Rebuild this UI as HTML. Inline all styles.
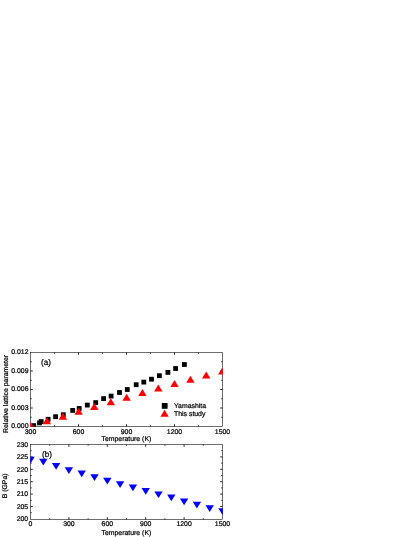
<!DOCTYPE html>
<html><head><meta charset="utf-8"><title>Chart</title>
<style>
html,body{margin:0;padding:0;background:#fff;}
body{width:415px;height:537px;position:relative;overflow:hidden;font-family:"Liberation Sans",sans-serif;}
</style></head><body>
<svg width="415" height="537" viewBox="0 0 415 537" style="position:absolute;left:0;top:0;will-change:transform">
<defs><clipPath id="ca"><rect x="30.20" y="352.20" width="192.60" height="74.60"/></clipPath>
<clipPath id="cb"><rect x="30.20" y="444.20" width="192.60" height="75.60"/></clipPath></defs>
<g stroke="#000" stroke-width="0.57" fill="none">
<rect x="30.50" y="352.50" width="192.00" height="74.00"/>
<rect x="30.50" y="444.50" width="192.00" height="75.00"/>
<path stroke-width="0.85" d="M54.50 426.50v-1.20M54.50 352.50v1.20M78.50 426.50v-2.30M78.50 352.50v2.30M102.50 426.50v-1.20M102.50 352.50v1.20M126.50 426.50v-2.30M126.50 352.50v2.30M150.50 426.50v-1.20M150.50 352.50v1.20M174.50 426.50v-2.30M174.50 352.50v2.30M198.50 426.50v-1.20M198.50 352.50v1.20M30.50 417.25h1.20M222.50 417.25h-1.20M30.50 408.00h2.30M222.50 408.00h-2.30M30.50 398.75h1.20M222.50 398.75h-1.20M30.50 389.50h2.30M222.50 389.50h-2.30M30.50 380.25h1.20M222.50 380.25h-1.20M30.50 371.00h2.30M222.50 371.00h-2.30M30.50 361.75h1.20M222.50 361.75h-1.20M49.70 519.50v-1.20M49.70 444.50v1.20M68.90 519.50v-2.30M68.90 444.50v2.30M88.10 519.50v-1.20M88.10 444.50v1.20M107.30 519.50v-2.30M107.30 444.50v2.30M126.50 519.50v-1.20M126.50 444.50v1.20M145.70 519.50v-2.30M145.70 444.50v2.30M164.90 519.50v-1.20M164.90 444.50v1.20M184.10 519.50v-2.30M184.10 444.50v2.30M203.30 519.50v-1.20M203.30 444.50v1.20M30.50 512.70h1.20M222.50 512.70h-1.20M30.50 506.50h2.30M222.50 506.50h-2.30M30.50 500.30h1.20M222.50 500.30h-1.20M30.50 494.10h2.30M222.50 494.10h-2.30M30.50 487.90h1.20M222.50 487.90h-1.20M30.50 481.70h2.30M222.50 481.70h-2.30M30.50 475.50h1.20M222.50 475.50h-1.20M30.50 469.30h2.30M222.50 469.30h-2.30M30.50 463.10h1.20M222.50 463.10h-1.20M30.50 456.90h2.30M222.50 456.90h-2.30M30.50 450.70h1.20M222.50 450.70h-1.20"/>
</g>
<g clip-path="url(#ca)" fill="#000">
<rect x="31.30" y="423.20" width="4.80" height="4.80"/>
<rect x="37.10" y="420.50" width="4.80" height="4.80"/>
<rect x="38.80" y="419.20" width="4.80" height="4.80"/>
<rect x="45.70" y="416.90" width="4.80" height="4.80"/>
<rect x="53.20" y="414.30" width="4.80" height="4.80"/>
<rect x="60.90" y="412.30" width="4.80" height="4.80"/>
<rect x="70.30" y="408.00" width="4.80" height="4.80"/>
<rect x="76.80" y="406.10" width="4.80" height="4.80"/>
<rect x="84.90" y="402.70" width="4.80" height="4.80"/>
<rect x="93.30" y="400.20" width="4.80" height="4.80"/>
<rect x="101.20" y="396.20" width="4.80" height="4.80"/>
<rect x="108.70" y="393.70" width="4.80" height="4.80"/>
<rect x="117.10" y="390.10" width="4.80" height="4.80"/>
<rect x="124.90" y="387.10" width="4.80" height="4.80"/>
<rect x="133.80" y="382.30" width="4.80" height="4.80"/>
<rect x="141.40" y="379.70" width="4.80" height="4.80"/>
<rect x="149.10" y="376.80" width="4.80" height="4.80"/>
<rect x="157.00" y="373.30" width="4.80" height="4.80"/>
<rect x="165.50" y="370.00" width="4.80" height="4.80"/>
<rect x="173.20" y="366.10" width="4.80" height="4.80"/>
<rect x="182.00" y="362.10" width="4.80" height="4.80"/>
</g>
<g clip-path="url(#ca)" fill="#ff0000">
<polygon points="30.60,422.00 34.80,429.00 26.40,429.00"/>
<polygon points="46.90,417.20 51.10,424.20 42.70,424.20"/>
<polygon points="62.90,412.80 67.10,419.80 58.70,419.80"/>
<polygon points="78.60,407.80 82.80,414.80 74.40,414.80"/>
<polygon points="94.30,402.90 98.50,409.90 90.10,409.90"/>
<polygon points="110.80,398.20 115.00,405.20 106.60,405.20"/>
<polygon points="126.60,393.80 130.80,400.80 122.40,400.80"/>
<polygon points="142.40,389.10 146.60,396.10 138.20,396.10"/>
<polygon points="158.30,384.60 162.50,391.60 154.10,391.60"/>
<polygon points="174.50,380.10 178.70,387.10 170.30,387.10"/>
<polygon points="190.40,375.65 194.60,382.65 186.20,382.65"/>
<polygon points="206.20,371.40 210.40,378.40 202.00,378.40"/>
<polygon points="222.30,367.40 226.50,374.40 218.10,374.40"/>
</g>
<g clip-path="url(#cb)" fill="#0000ff">
<polygon points="26.30,456.80 34.70,456.80 30.50,463.50"/>
<polygon points="39.10,458.80 47.50,458.80 43.30,465.50"/>
<polygon points="51.90,463.10 60.30,463.10 56.10,469.80"/>
<polygon points="64.70,467.20 73.10,467.20 68.90,473.90"/>
<polygon points="77.50,470.60 85.90,470.60 81.70,477.30"/>
<polygon points="90.30,474.30 98.70,474.30 94.50,481.00"/>
<polygon points="103.10,477.80 111.50,477.80 107.30,484.50"/>
<polygon points="115.90,481.20 124.30,481.20 120.10,487.90"/>
<polygon points="128.70,484.60 137.10,484.60 132.90,491.30"/>
<polygon points="141.50,488.00 149.90,488.00 145.70,494.70"/>
<polygon points="154.30,491.40 162.70,491.40 158.50,498.10"/>
<polygon points="167.10,494.60 175.50,494.60 171.30,501.30"/>
<polygon points="179.90,498.45 188.30,498.45 184.10,505.15"/>
<polygon points="192.70,501.85 201.10,501.85 196.90,508.55"/>
<polygon points="205.50,505.25 213.90,505.25 209.70,511.95"/>
<polygon points="218.30,508.35 226.70,508.35 222.50,515.05"/>
</g>
<rect x="161.80" y="403.00" width="5.8" height="5.8" fill="#000"/>
<polygon fill="#ff0000" points="164.60,409.75 168.80,416.75 160.40,416.75"/>
<g opacity="0.999" stroke="#000" stroke-width="0.22" text-rendering="geometricPrecision" font-family="Liberation Sans, sans-serif" font-size="6.90" fill="#000">
<text x="30.50" y="434.45" text-anchor="middle">300</text>
<text x="78.50" y="434.45" text-anchor="middle">600</text>
<text x="126.50" y="434.45" text-anchor="middle">900</text>
<text x="174.50" y="434.45" text-anchor="middle">1200</text>
<text x="222.50" y="434.45" text-anchor="middle">1500</text>
<text x="28.5" y="428.35" text-anchor="end">0.000</text>
<text x="28.5" y="409.85" text-anchor="end">0.003</text>
<text x="28.5" y="391.35" text-anchor="end">0.006</text>
<text x="28.5" y="372.85" text-anchor="end">0.009</text>
<text x="28.5" y="354.35" text-anchor="end">0.012</text>
<text x="30.50" y="526.3" text-anchor="middle">0</text>
<text x="68.90" y="526.3" text-anchor="middle">300</text>
<text x="107.30" y="526.3" text-anchor="middle">600</text>
<text x="145.70" y="526.3" text-anchor="middle">900</text>
<text x="184.10" y="526.3" text-anchor="middle">1200</text>
<text x="222.50" y="526.3" text-anchor="middle">1500</text>
<text x="28.2" y="521.10" text-anchor="end">200</text>
<text x="28.2" y="508.70" text-anchor="end">205</text>
<text x="28.2" y="496.30" text-anchor="end">210</text>
<text x="28.2" y="483.90" text-anchor="end">215</text>
<text x="28.2" y="471.50" text-anchor="end">220</text>
<text x="28.2" y="459.10" text-anchor="end">225</text>
<text x="28.2" y="446.70" text-anchor="end">230</text>
<text x="126.4" y="441.3" text-anchor="middle">Temperature (K)</text>
<text x="126.4" y="534.8" text-anchor="middle">Temperature (K)</text>
<text transform="translate(7.65,393.9) rotate(-90)" text-anchor="middle">Relative lattice parameter</text>
<text transform="translate(7.2,485.9) rotate(-90)" text-anchor="middle">B (GPa)</text>
<text x="174.0" y="408.2">Yamashita</text>
<text x="174.0" y="416.1">This study</text>
<text x="41.0" y="364.6" font-size="8.2">(a)</text>
<text x="42.0" y="456.6" font-size="8.2">(b)</text>
</g>
</svg>
</body></html>
